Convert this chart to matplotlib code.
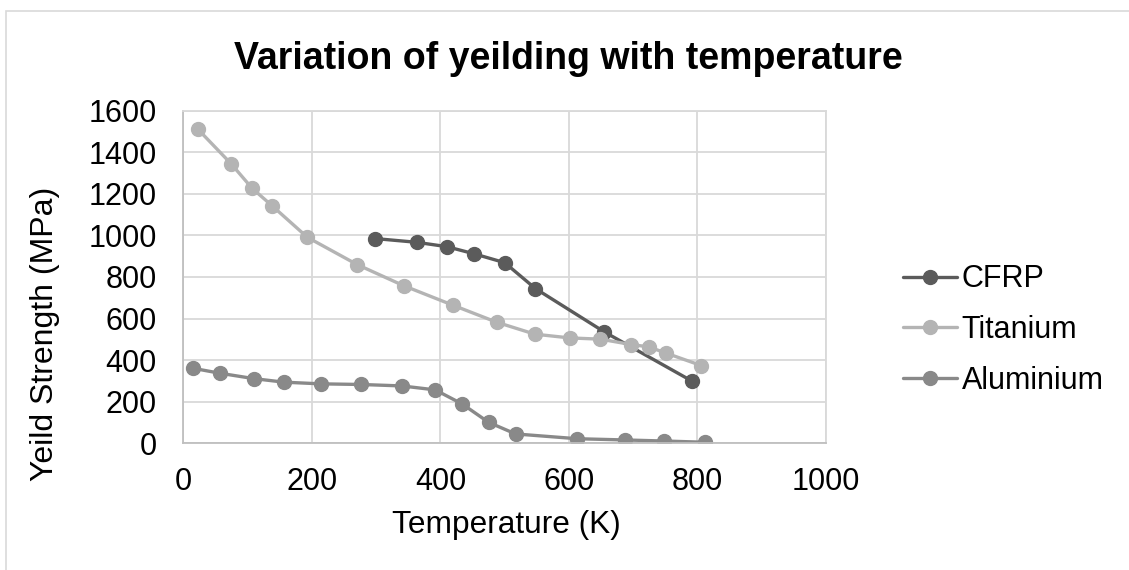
import matplotlib
matplotlib.use("Agg")
import matplotlib.pyplot as plt
from matplotlib.patches import Rectangle

plt.rcParams['font.family'] = ['Liberation Sans', 'DejaVu Sans']

# data
cfrp_t = [298, 363, 410, 452, 500, 548, 655, 791]
cfrp_y = [985, 967, 946, 912, 869, 744, 536, 300]

ti_t = [23, 74, 107, 138, 193, 271, 343, 419, 488, 547, 601, 649, 697, 724, 751, 806]
ti_y = [1510, 1346, 1227, 1143, 991, 859, 758, 665, 582, 525, 507, 501, 475, 464, 434, 374]

al_t = [15, 57, 110, 157, 214, 276, 340, 392, 434, 475, 517, 613, 688, 748, 812]
al_y = [361, 337, 311, 294, 286, 283, 276, 257, 189, 101, 45, 22, 16, 11, 5]

series = [
    ('CFRP', cfrp_t, cfrp_y, '#5b5b5b'),
    ('Titanium', ti_t, ti_y, '#b4b4b4'),
    ('Aluminium', al_t, al_y, '#898989'),
]

W, H = 1129, 570
fig = plt.figure(figsize=(W / 100, H / 100), dpi=100)
# chart outline
fig.patches.append(Rectangle((6 / W, -0.05), 1.1, (H - 11) / H + 0.05,
                             transform=fig.transFigure, fill=False,
                             edgecolor='#d9d9d9', linewidth=1.2))

ax = fig.add_axes([183.3 / W, 1 - 443.3 / H, (826 - 183.3) / W, (443.3 - 110.7) / H])

for name, t, y, c in series:
    ax.plot(t, y, color=c, lw=2.4, marker='o', ms=10, label=name, solid_capstyle='round')

ax.set_xlim(0, 1000)
ax.set_ylim(0, 1600)
ax.set_xticks(range(0, 1001, 200))
ax.set_yticks(range(0, 1601, 200))
ax.grid(True, color='#d9d9d9', lw=1.3)
ax.set_axisbelow(True)
for s in ax.spines.values():
    s.set_color('#d9d9d9')
    s.set_linewidth(1.3)
ax.spines['left'].set_color('#bfbfbf')
ax.spines['bottom'].set_color('#bfbfbf')
ax.tick_params(length=0, labelsize=22, colors='black')
ax.tick_params(axis='x', pad=17)
ax.tick_params(axis='y', pad=19)

fig.text(506 / W, 1 - 533 / H, 'Temperature (K)', ha='center', va='baseline', fontsize=22.8)
fig.text(45 / W, 1 - 334 / H, 'Yeild Strength (MPa)', ha='center', va='center',
         rotation=90, fontsize=23)
fig.text(568.5 / W, 1 - 69 / H, 'Variation of yeilding with temperature',
         ha='center', va='baseline', fontsize=27, fontweight='bold')

ax.legend(loc='center left', bbox_to_anchor=(903 / W, 1 - 330 / H),
          bbox_transform=fig.transFigure, frameon=False, fontsize=22,
          borderpad=0, borderaxespad=0,
          handlelength=1.77, handletextpad=0.15, labelspacing=0.68)

fig.savefig('out.png', dpi=100)
